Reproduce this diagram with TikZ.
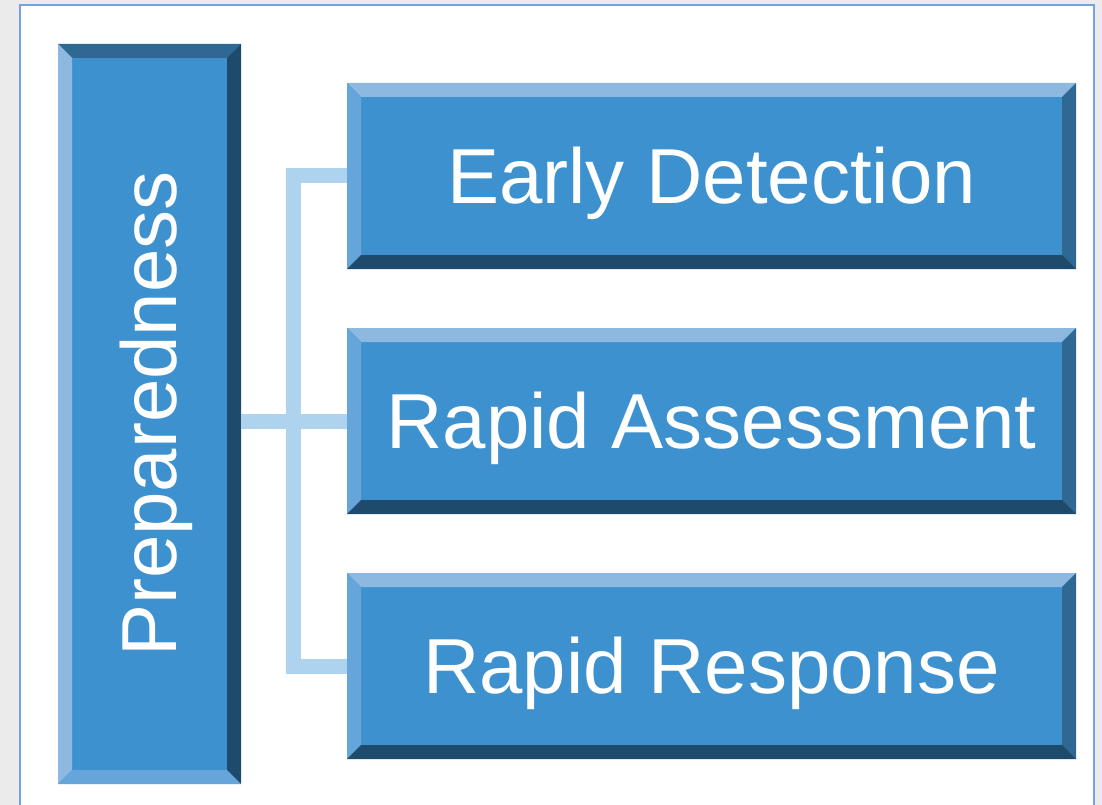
\documentclass[tikz,border=0pt]{standalone}
\usepackage{fontspec}
\setmainfont{Liberation Sans}
\usepackage{graphicx}
\usetikzlibrary{positioning}

\definecolor{boxmid}{HTML}{3D91CF}
\definecolor{bevlight}{HTML}{8DB9E0}
\definecolor{bevleft}{HTML}{66A5D9}
\definecolor{bevright}{HTML}{2E6893}
\definecolor{bevdark}{HTML}{1E4A6B}
\definecolor{connblue}{HTML}{AED3EF}
\definecolor{framblue}{HTML}{6FA3E3}
\definecolor{pagegray}{HTML}{EBEBEB}

% lowered label, box size kept
\newcommand{\lowtext}[1]{\raisebox{-7pt}[\height][\depth]{#1}}

\tikzset{
  bevel/.style n args={4}{path picture={
    \fill[#1] (path picture bounding box.north west) -- (path picture bounding box.north east)
      -- ([shift={(-14pt,-14pt)}]path picture bounding box.north east)
      -- ([shift={(14pt,-14pt)}]path picture bounding box.north west) -- cycle;
    \fill[#2] (path picture bounding box.north west) -- ([shift={(14pt,-14pt)}]path picture bounding box.north west)
      -- ([shift={(14pt,14pt)}]path picture bounding box.south west)
      -- (path picture bounding box.south west) -- cycle;
    \fill[#3] (path picture bounding box.north east) -- (path picture bounding box.south east)
      -- ([shift={(-14pt,14pt)}]path picture bounding box.south east)
      -- ([shift={(-14pt,-14pt)}]path picture bounding box.north east) -- cycle;
    \fill[#4] (path picture bounding box.south west) -- (path picture bounding box.south east)
      -- ([shift={(-14pt,14pt)}]path picture bounding box.south east)
      -- ([shift={(14pt,14pt)}]path picture bounding box.south west) -- cycle;
  }},
  stepbox/.style={rectangle, fill=boxmid, text=white, inner sep=0pt, outer sep=0pt,
    font=\fontsize{78}{90}\selectfont},
  conn/.style={draw=connblue, line width=15pt},
}

\begin{document}
\begin{tikzpicture}[x=1pt, y=1pt, node distance=59pt]
    % Page and frame
    \useasboundingbox (0,0) rectangle (1102,-805);
    \fill[pagegray] (0,0) rectangle (1102,-805);
    \draw[framblue, line width=2pt, fill=white] (20,-5) rectangle (1094,-830);

    % Define nodes
    \node [stepbox, minimum width=183pt, minimum height=740pt,
      bevel={bevright}{bevlight}{bevdark}{bevleft}] (prep) at (149.5,-414) {\rotatebox{90}{\lowtext{Preparedness}}};
    \node [stepbox, minimum width=729pt, minimum height=186pt,
      bevel={bevlight}{bevleft}{bevright}{bevdark}] (detect) at (711.5,-176) {\lowtext{Early Detection}};
    \node [stepbox, minimum width=729pt, minimum height=186pt,
      bevel={bevlight}{bevleft}{bevright}{bevdark}, below=of detect] (assess) {\lowtext{Rapid Assessment}};
    \node [stepbox, minimum width=729pt, minimum height=186pt,
      bevel={bevlight}{bevleft}{bevright}{bevdark}, below=of assess] (respond) {\lowtext{Rapid Response}};

    % Draw edges
    \draw [conn] (detect.west) -- ++(-53.5,0) |- (respond.west);
    \draw [conn] (prep.east |- assess.west) -- (assess.west);
\end{tikzpicture}
\end{document}
